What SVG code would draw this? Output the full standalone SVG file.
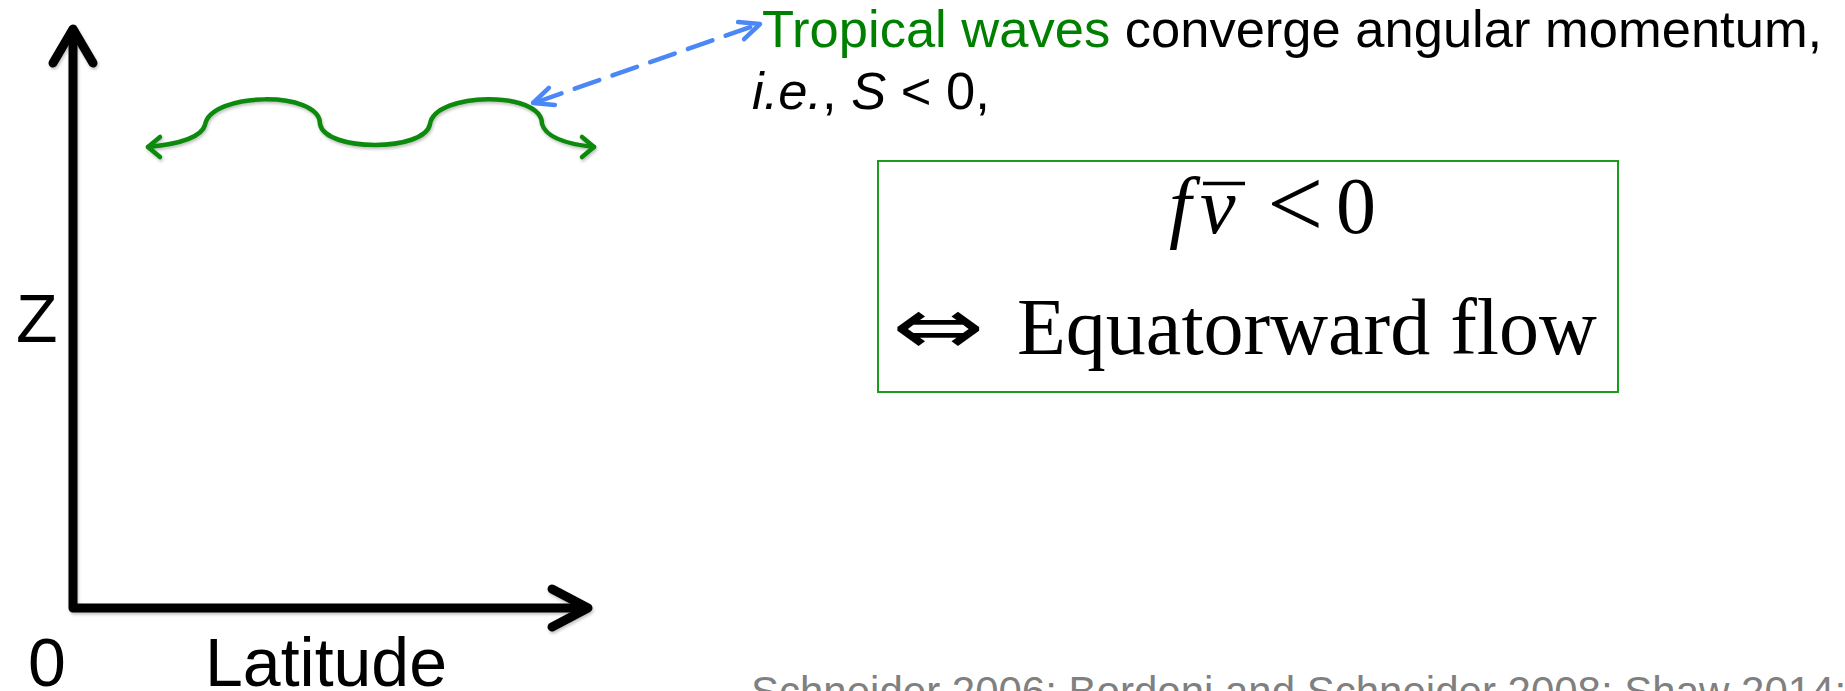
<svg xmlns="http://www.w3.org/2000/svg" width="1845" height="691" viewBox="0 0 1845 691">
  <defs>
    <filter id="shadow" x="-10%" y="-10%" width="120%" height="130%">
      <feDropShadow dx="1" dy="2" stdDeviation="1.5" flood-color="#000" flood-opacity="0.25"/>
    </filter>
    <style>
      .axis { fill: none; stroke: #000; stroke-width: 9; stroke-linecap: round; stroke-linejoin: round; }
      .wave { fill: none; stroke: #0a8a0a; stroke-width: 4.5; stroke-linecap: round; stroke-linejoin: round; }
      .link { fill: none; stroke: #4c87f7; stroke-width: 4.5; stroke-linecap: round; stroke-linejoin: round; }
      .sans { font-family: "Liberation Sans", Arial, sans-serif; }
      .serif { font-family: "Liberation Serif", "Times New Roman", serif; }
      .lbl { font-size: 68px; fill: #000; }
      .note { font-size: 52.5px; fill: #000; }
      .green { fill: #008000; }
      .math { font-size: 80px; fill: #000; }
      .cite { font-size: 42px; fill: #808080; }
    </style>
  </defs>
  <rect width="1845" height="691" fill="#fff"/>

  <g id="axes" filter="url(#shadow)">
    <polyline class="axis" points="73,30 73,608 586,608"/>
    <polyline class="axis" points="53,63 73,29 93,63"/>
    <polyline class="axis" points="552,589 588,608 552,627"/>
  </g>
  <g id="axis-labels">
    <text class="sans lbl" x="16" y="342">Z</text>
    <text class="sans lbl" x="28" y="686">0</text>
    <text class="sans lbl" x="205" y="686">Latitude</text>
  </g>

  <g id="tropical-wave" filter="url(#shadow)">
    <path class="wave" d="M148,147 Q200,142 205,125 C210,92 320,90 320,124 C325,152 425,152 430,124 C435,92 542,90 542,124 Q547,142 594,147"/>
    <polyline class="wave" points="160,137 148,147 160,157"/>
    <polyline class="wave" points="582,137 594,147 582,157"/>
  </g>

  <g id="connectors">
    <line class="link" x1="537" y1="102" x2="756" y2="25" stroke-dasharray="26,14"/>
    <polyline class="link" points="554.9,104.9 533,103 548.9,87.9"/>
    <polyline class="link" points="744.1,39.1 760,24 738.1,22.1"/>
  </g>

  <g id="note">
    <text class="sans note" x="762" y="47"><tspan class="green">Tropical waves</tspan> converge angular momentum,</text>
    <text class="sans note" x="752" y="109"><tspan font-style="italic">i.e.</tspan>, <tspan font-style="italic">S</tspan> &lt; 0,</text>
  </g>

  <g id="equation-box">
    <rect x="878" y="161" width="740" height="231" fill="#fff" stroke="#1c9c1c" stroke-width="2"/>
    <text class="serif math" x="1169" y="233" font-style="italic">f</text>
    <text class="serif math" x="1200" y="233" font-style="italic">v</text>
    <line x1="1203" y1="183.5" x2="1245" y2="183.5" stroke="#000" stroke-width="3.5"/>
    <text class="serif" font-size="100" x="1267" y="237">&lt;</text>
    <text class="serif math" x="1336" y="233">0</text>
    <text class="math" transform="translate(892,354) scale(1.38,1)" x="0" y="0" font-family="'DejaVu Sans', 'DejaVu Serif', serif" font-size="80">⇔</text>
    <text class="serif math" x="1017" y="354">Equatorward flow</text>
  </g>

  <g id="citation">
    <text class="sans cite" x="751" y="706">Schneider 2006; Bordoni and Schneider 2008; Shaw 2014;</text>
  </g>
</svg>
